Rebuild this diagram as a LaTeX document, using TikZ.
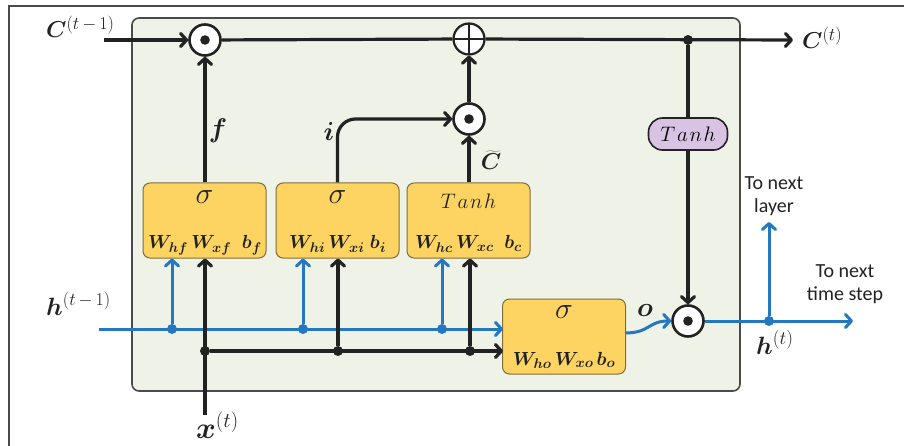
\RequirePackage{fix-cm}
\documentclass[tikz,border=0pt]{standalone}
\usepackage{fontspec}
\usepackage{bm}
\usetikzlibrary{arrows.meta}
\newfontfamily\carlito{Carlito}
\definecolor{boxfill}{HTML}{FDD462}
\definecolor{boxdraw}{HTML}{7F6E3A}
\definecolor{cellfill}{HTML}{EFF2E6}
\definecolor{cellborder}{HTML}{4A4A4A}
\definecolor{blu}{HTML}{2478C2}
\definecolor{lav}{HTML}{D8C3E4}
\definecolor{ink}{HTML}{222222}
\newcommand{\fsz}[1]{\fontsize{#1}{#1}\selectfont}
\newcommand{\ssup}[2]{^{\mbox{\fsz{#1}$#2$}}}
\newcommand{\ssub}[2]{_{\mbox{\fsz{#1}$\bm{#2}$}}}
\newcommand{\tnh}{T\mkern1.5mu a\mkern1.5mu n\mkern1.5mu h}
\newcommand{\tmo}{(t\mkern3mu{-}\mkern3mu1)}
\newcommand{\wrow}[6]{\fsz{19}$\bm{W}\ssub{14}{#1}\,\bm{W}\ssub{14}{#2}#5\bm{b}\ssub{14}{#3}$}
\tikzset{
  wire/.style={draw=ink, line width=3.2pt},
  bwire/.style={draw=blu, line width=3pt},
  arr/.style={-{Straight Barb[length=6pt,width=13pt,line cap=round,line join=round]}},
  gate/.style={draw=boxdraw, fill=boxfill, line width=1pt, rounded corners=7pt,
    minimum width=123pt, minimum height=75pt, inner sep=0pt},
  opnode/.style={circle, draw=ink, fill=white, line width=2.6pt, minimum size=31pt, inner sep=0pt},
  odotnode/.style={opnode, path picture={\fill[ink] (path picture bounding box.center) circle (4.8pt);}},
  oplusnode/.style={opnode, line width=2.2pt, path picture={
     \draw[ink, line width=1.8pt] (path picture bounding box.north) -- (path picture bounding box.south)
       (path picture bounding box.west) -- (path picture bounding box.east);}},
  kdot/.style={circle, fill=ink, minimum size=10pt, inner sep=0pt},
  bdot/.style={circle, fill=blu, minimum size=10pt, inner sep=0pt},
  lbl/.style={inner sep=0pt, text=ink},
  note/.style={inner sep=0pt, align=center, text=ink, font=\carlito\fontsize{20}{23}\selectfont}
}
\begin{document}
\begin{tikzpicture}[x=1pt,y=-1pt]
\useasboundingbox (0,0) rectangle (904,446);
% outer frame (top and left edges)
\draw[cellborder, line width=2pt] (9,446) -- (9,6) -- (904,6);
% cell
\node[draw=cellborder, fill=cellfill, line width=1.6pt, rounded corners=7pt,
  minimum width=608pt, minimum height=373pt, inner sep=0pt] (cell) at (436,204.5) {};
% gates
\node[gate] (fg) at (204.5,220.5) {};
\node[gate] (ig) at (337.5,220.5) {};
\node[gate] (cg) at (468.5,220.5) {};
\node[gate] (og) at (564,336.5) {};
\node[lbl] (fgs) at (204.5,197) {\fsz{30}$\sigma$};
\node[lbl] (igs) at (337.5,197) {\fsz{30}$\sigma$};
\node[lbl] (cgs) at (468.5,201) {\fsz{21}$\tnh$};
\node[lbl] (ogs) at (564,312) {\fsz{30}$\sigma$};
\node[lbl, anchor=base] (fgw) at (205,249) {\wrow{hf}{xf}{f}{}{\;\;}{}};
\node[lbl, anchor=base] (igw) at (337.5,249) {\wrow{hi}{xi}{i}{}{\;}{}};
\node[lbl, anchor=base] (cgw) at (468.5,249) {\wrow{hc}{xc}{c}{}{\;\;}{}};
\node[lbl, anchor=base] (ogw) at (564,365) {\wrow{ho}{xo}{o}{}{\,}{}};
% operators
\node[odotnode] (fmul) at (205,40) {};
\node[oplusnode] (add) at (469,39) {};
\node[odotnode] (imul) at (469,119) {};
\node[odotnode] (hmul) at (688,321) {};
\node[draw=ink, fill=lav, line width=1.6pt, rounded corners=14pt, minimum width=79pt,
  minimum height=32pt, inner sep=0pt] (tanh) at (688,134) {\fsz{21}$\tnh$};
% coordinates
\coordinate (cin) at (104,40);
\coordinate (cout) at (793,40);
\coordinate (hin) at (99,329);
\coordinate (ogh) at (503,329);
\coordinate (xin) at (205,415);
\coordinate (ogx) at (503,351);
\coordinate (hout) at (853,321);
\coordinate (hup) at (769,222);
\coordinate (ogo) at (625,333);
% blue lines
\draw[bwire, arr] (hin) -- (ogh);
\node[bdot] (hd1) at (172,329) {};
\node[bdot] (hd2) at (303,329) {};
\node[bdot] (hd3) at (442,329) {};
\draw[bwire, arr] (hd1) -- (hd1 |- fg.south);
\draw[bwire, arr] (hd2) -- (hd2 |- ig.south);
\draw[bwire, arr] (hd3) -- (hd3 |- cg.south);
\draw[bwire, arr] (ogo) .. controls (650,333) and (648,321) .. (hmul.west);
\draw[bwire, arr] (hmul) -- (hout);
\node[bdot] (hd4) at (769,321) {};
\draw[bwire, arr] (hd4) -- (hup);
% black lines
\draw[wire, arr] (cin) -- (fmul);
\draw[wire] (fmul) -- (add);
\draw[wire, arr] (add) -- (cout);
\node[kdot] (jt) at (688,40) {};
\draw[wire] (jt) -- (tanh);
\draw[wire, arr] (tanh) -- (hmul);
\draw[wire, arr] (fg.north -| fmul) -- (fmul);
\draw[wire, arr, rounded corners=18pt] (ig.north) |- (imul.west);
\draw[wire, arr] (cg.north -| imul) -- (imul);
\draw[wire, arr] (imul) -- (add);
\draw[wire, arr] (xin) -- (xin |- fg.south);
\node[kdot] (xd1) at (205,351) {};
\node[kdot] (xd2) at (338,351) {};
\node[kdot] (xd3) at (470,351) {};
\draw[wire, arr] (xd1) -- (ogx);
\draw[wire, arr] (xd2) -- (xd2 |- ig.south);
\draw[wire, arr] (xd3) -- (xd3 |- cg.south);
% labels
\node[lbl, anchor=base west] (lcin) at (46,38) {\fsz{23}$\bm{C}\ssup{18}{\tmo}$};
\node[lbl, anchor=base west] (lcout) at (802,49) {\fsz{23}$\bm{C}\ssup{18}{(t)}$};
\node[lbl, anchor=base west] (lhin) at (46,315) {\fsz{25}$\bm{h}\ssup{18}{\tmo}$};
\node[lbl, anchor=base west] (lxin) at (196,438) {\fsz{30}$\bm{x}\ssup{21}{(t)}$};
\node[lbl, anchor=base west] (lhout) at (756,354) {\fsz{25}$\bm{h}\ssup{19}{(t)}$};
\node[lbl] (lf) at (218,131) {\fsz{27}$\bm{f}$};
\node[lbl] (li) at (329,131) {\fsz{26}$\bm{i}$};
\node[lbl] (lct) at (491,160) {\fsz{23}$\widetilde{\bm{C}}$};
\node[lbl] (lo) at (645,310) {\fsz{27}$\bm{o}$};
\node[note] (nl) at (774,196) {To next\\layer};
\node[note] (nt) at (845,284) {To next\\time step};
\end{tikzpicture}
\end{document}
